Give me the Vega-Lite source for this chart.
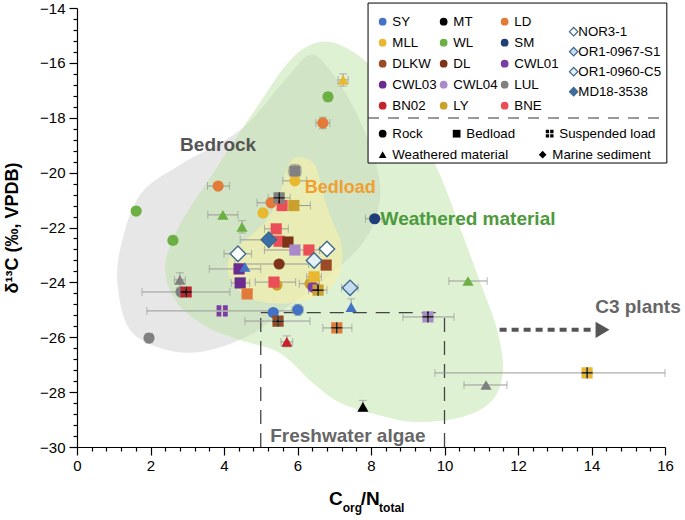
{
"$schema": "https://vega.github.io/schema/vega-lite/v6.json",
"width": 588, "height": 439,
"autosize": "none",
"padding": {"left": 77, "top": 8, "right": 20, "bottom": 73},
"background": "white",
"config": {"view": {"stroke": null}, "font": "Liberation Sans"},
"datasets": {
"gray": [{"i":0,"x":6.34,"y":-15.71},{"i":1,"x":6.88,"y":-16.26},{"i":2,"x":7.56,"y":-17.72},{"i":3,"x":8.11,"y":-19.54},{"i":4,"x":8.24,"y":-21.0},{"i":5,"x":7.84,"y":-22.45},{"i":6,"x":6.88,"y":-23.73},{"i":7,"x":5.8,"y":-24.82},{"i":8,"x":4.71,"y":-25.92},{"i":9,"x":3.35,"y":-26.54},{"i":10,"x":2.26,"y":-26.39},{"i":11,"x":1.44,"y":-25.73},{"i":12,"x":1.12,"y":-24.28},{"i":13,"x":1.17,"y":-22.82},{"i":14,"x":1.71,"y":-20.82},{"i":15,"x":2.8,"y":-19.72},{"i":16,"x":4.44,"y":-18.45},{"i":17,"x":5.66,"y":-16.62}],
"green": [{"i":0,"x":6.61,"y":-15.24},{"i":1,"x":7.43,"y":-15.53},{"i":2,"x":8.38,"y":-16.62},{"i":3,"x":9.2,"y":-18.26},{"i":4,"x":9.88,"y":-20.09},{"i":5,"x":10.45,"y":-22.1},{"i":6,"x":11.0,"y":-24.1},{"i":7,"x":11.43,"y":-25.73},{"i":8,"x":11.59,"y":-27.2},{"i":9,"x":11.3,"y":-28.3},{"i":10,"x":10.5,"y":-28.9},{"i":11,"x":9.25,"y":-29.09},{"i":12,"x":8.24,"y":-28.85},{"i":13,"x":7.16,"y":-28.39},{"i":14,"x":6.42,"y":-27.67},{"i":15,"x":5.52,"y":-26.57},{"i":16,"x":4.44,"y":-26.1},{"i":17,"x":3.5,"y":-25.6},{"i":18,"x":2.7,"y":-24.7},{"i":19,"x":2.4,"y":-23.4},{"i":20,"x":2.8,"y":-21.9},{"i":21,"x":3.76,"y":-19.9},{"i":22,"x":4.84,"y":-17.72},{"i":23,"x":5.8,"y":-15.9}],
"yellow": [{"i":0,"x":6.07,"y":-19.43},{"i":1,"x":6.48,"y":-19.72},{"i":2,"x":6.67,"y":-20.63},{"i":3,"x":6.88,"y":-21.54},{"i":4,"x":7.16,"y":-22.45},{"i":5,"x":7.21,"y":-23.26},{"i":6,"x":7.02,"y":-24.02},{"i":7,"x":6.56,"y":-24.5},{"i":8,"x":5.8,"y":-24.75},{"i":9,"x":5.03,"y":-24.71},{"i":10,"x":4.44,"y":-24.35},{"i":11,"x":4.11,"y":-23.62},{"i":12,"x":4.22,"y":-22.89},{"i":13,"x":4.71,"y":-22.31},{"i":14,"x":5.12,"y":-21.8},{"i":15,"x":5.47,"y":-21.0},{"i":16,"x":5.66,"y":-20.09},{"i":17,"x":5.8,"y":-19.61}],
"pts": [
{"site":"WL","type":"Rock","x":6.83,"y":-17.24,"ylo":-17.4,"yhi":-17.08},
{"site":"LD","type":"Rock","x":6.69,"y":-18.19,"xlo":6.5,"xhi":6.88,"ylo":-18.4,"yhi":-17.98},
{"site":"MLL","type":"Rock","x":5.93,"y":-20.3,"xlo":5.6,"xhi":6.25},
{"site":"LD","type":"Rock","x":5.28,"y":-21.1,"xlo":4.9,"xhi":5.6},
{"site":"MLL","type":"Rock","x":5.06,"y":-21.47},
{"site":"LD","type":"Rock","x":3.84,"y":-20.49,"xlo":3.55,"xhi":4.15},
{"site":"WL","type":"Rock","x":1.61,"y":-21.4},
{"site":"WL","type":"Rock","x":2.61,"y":-22.47,"ylo":-22.62,"yhi":-22.32},
{"site":"SM","type":"Rock","x":8.1,"y":-21.68,"xlo":7.85,"xhi":8.3},
{"site":"DL","type":"Rock","x":5.5,"y":-23.33,"xlo":4.3,"xhi":6.3},
{"site":"LY","type":"Rock","x":5.44,"y":-24.1},
{"site":"LY","type":"Rock","x":6.34,"y":-24.05,"xlo":6.05,"xhi":6.6},
{"site":"CWL01","type":"Rock","x":6.42,"y":-24.17},
{"site":"LUL","type":"Rock","x":2.83,"y":-24.35,"xlo":1.77,"xhi":4.16},
{"site":"LUL","type":"Rock","x":1.96,"y":-26.03,"ylo":-26.2,"yhi":-25.86},
{"site":"SY","type":"Rock","x":5.34,"y":-25.1},
{"site":"SY","type":"Rock","x":6.01,"y":-25.0,"xlo":5.85,"xhi":6.15,"ylo":-25.2,"yhi":-24.8},
{"site":"LUL","type":"Bedload","x":5.93,"y":-19.94,"xlo":5.75,"xhi":6.1,"ylo":-20.2,"yhi":-19.7},
{"site":"BNE","type":"Bedload","x":5.58,"y":-21.2},
{"site":"LY","type":"Bedload","x":5.9,"y":-21.2,"xlo":5.5,"xhi":6.35},
{"site":"BNE","type":"Bedload","x":5.42,"y":-22.05,"xlo":5.1,"xhi":5.75},
{"site":"BNE","type":"Bedload","x":5.5,"y":-22.5},
{"site":"DL","type":"Bedload","x":5.74,"y":-22.53},
{"site":"CWL04","type":"Bedload","x":5.93,"y":-22.82,"xlo":5.1,"xhi":6.6},
{"site":"BNE","type":"Bedload","x":6.31,"y":-22.82},
{"site":"DLKW","type":"Bedload","x":6.78,"y":-23.37},
{"site":"CWL03","type":"Bedload","x":4.41,"y":-23.51,"xlo":3.6,"xhi":5.0},
{"site":"CWL03","type":"Bedload","x":4.44,"y":-24.02,"xlo":4.2,"xhi":4.7},
{"site":"MLL","type":"Bedload","x":6.45,"y":-23.8,"xlo":6.25,"xhi":6.65},
{"site":"BNE","type":"Bedload","x":5.36,"y":-23.99,"xlo":4.85,"xhi":5.95},
{"site":"LD","type":"Bedload","x":4.63,"y":-24.42},
{"site":"LUL","type":"Suspended load","x":5.5,"y":-20.92,"xlo":5.2,"xhi":5.8},
{"site":"LY","type":"Suspended load","x":6.56,"y":-24.28,"xlo":6.3,"xhi":6.8},
{"site":"BN02","type":"Suspended load","x":2.97,"y":-24.35},
{"site":"CWL01","type":"Suspended load","x":3.95,"y":-25.04,"xlo":1.9,"xhi":6.0},
{"site":"DLKW","type":"Suspended load","x":5.47,"y":-25.41,"xlo":4.57,"xhi":6.34},
{"site":"LD","type":"Suspended load","x":7.07,"y":-25.66,"xlo":6.69,"xhi":7.48},
{"site":"CWL04","type":"Suspended load","x":9.55,"y":-25.26,"xlo":8.87,"xhi":10.26},
{"site":"MLL","type":"Suspended load","x":13.88,"y":-27.3,"xlo":9.74,"xhi":16.0},
{"site":"MLL","type":"Weathered material","x":7.24,"y":-16.62,"xlo":7.1,"xhi":7.38,"ylo":-16.85,"yhi":-16.4},
{"site":"WL","type":"Weathered material","x":3.97,"y":-21.54,"xlo":3.56,"xhi":4.38},
{"site":"WL","type":"Weathered material","x":4.49,"y":-21.98,"ylo":-22.2,"yhi":-21.75},
{"site":"SY","type":"Weathered material","x":4.57,"y":-23.44},
{"site":"LUL","type":"Weathered material","x":2.8,"y":-23.91,"xlo":2.65,"xhi":2.95,"ylo":-24.2,"yhi":-23.65},
{"site":"SY","type":"Weathered material","x":7.46,"y":-24.9,"ylo":-25.05,"yhi":-24.6},
{"site":"BN02","type":"Weathered material","x":5.71,"y":-26.17,"xlo":5.55,"xhi":5.87,"ylo":-26.35,"yhi":-25.95},
{"site":"MT","type":"Weathered material","x":7.78,"y":-28.54,"ylo":-28.7,"yhi":-28.3},
{"site":"WL","type":"Weathered material","x":10.64,"y":-23.95,"xlo":10.12,"xhi":11.16},
{"site":"LUL","type":"Weathered material","x":11.13,"y":-27.74,"xlo":10.53,"xhi":11.7},
{"site":"MD18-3538","type":"Marine sediment","x":5.22,"y":-22.45,"xlo":4.44,"xhi":5.5},
{"site":"NOR3-1","type":"Marine sediment","x":6.8,"y":-22.78},
{"site":"OR1-0960-C5","type":"Marine sediment","x":6.45,"y":-23.2},
{"site":"NOR3-1","type":"Marine sediment","x":4.38,"y":-22.96,"xlo":4.0,"xhi":4.75},
{"site":"OR1-0967-S1","type":"Marine sediment","x":7.43,"y":-24.2,"xlo":7.2,"xhi":7.65}
]
},
"layer": [
{"data": {"name": "gray"},
 "mark": {"type": "line", "interpolate": "cardinal-closed", "fill": "#d4d4d4", "fillOpacity": 0.55, "strokeWidth": 0},
 "encoding": {
  "x": {"field": "x", "type": "quantitative", "scale": {"domain": [0, 16], "nice": false, "zero": false},
   "axis": {"orient": "bottom", "title": null, "grid": false, "values": [0,2,4,6,8,10,12,14,16], "labelOverlap": false, "labelFlush": false,
    "tickSize": 8, "domainColor": "black", "tickColor": "black", "labelColor": "black", "labelFontSize": 15, "labelPadding": 3, "domainWidth": 1.2, "tickWidth": 1.2}},
  "y": {"field": "y", "type": "quantitative", "scale": {"domain": [-30, -14], "nice": false, "zero": false},
   "axis": {"orient": "left", "title": "δ¹³C (‰, VPDB)", "titleFontSize": 18, "titleFontWeight": "bold", "titleColor": "black", "titlePadding": 18, "grid": false,
    "values": [-14,-16,-18,-20,-22,-24,-26,-28,-30], "labelOverlap": false, "labelFlush": false,
    "tickSize": 8, "domainColor": "black", "tickColor": "black", "labelColor": "black", "labelFontSize": 15, "labelPadding": 4, "domainWidth": 1.2, "tickWidth": 1.2}},
  "order": {"field": "i", "type": "quantitative"}
 }},
{"data": {"name": "green"},
 "mark": {"type": "line", "interpolate": "cardinal-closed", "fill": "#b5df9c", "fillOpacity": 0.45, "strokeWidth": 0},
 "encoding": {
  "x": {"field": "x", "type": "quantitative",
   "axis": {"orient": "bottom", "title": null, "grid": false, "labels": false, "domain": false, "values": [0.4,0.8,1.2,1.6,2.4,2.8,3.2,3.6,4.4,4.8,5.2,5.6,6.4,6.8,7.2,7.6,8.4,8.8,9.2,9.6,10.4,10.8,11.2,11.6,12.4,12.8,13.2,13.6,14.4,14.8,15.2,15.6], "tickSize": 4, "tickColor": "black", "tickWidth": 1.2}},
  "y": {"field": "y", "type": "quantitative",
   "axis": {"orient": "left", "title": null, "grid": false, "labels": false, "domain": false, "values": [-14.4,-14.8,-15.2,-15.6,-16.4,-16.8,-17.2,-17.6,-18.4,-18.8,-19.2,-19.6,-20.4,-20.8,-21.2,-21.6,-22.4,-22.8,-23.2,-23.6,-24.4,-24.8,-25.2,-25.6,-26.4,-26.8,-27.2,-27.6,-28.4,-28.8,-29.2,-29.6], "tickSize": 4, "tickColor": "black", "tickWidth": 1.2}},
  "order": {"field": "i", "type": "quantitative"}}},
{"data": {"name": "yellow"},
 "mark": {"type": "line", "interpolate": "cardinal-closed", "fill": "#f6efaa", "fillOpacity": 0.65, "strokeWidth": 0},
 "encoding": {"x": {"field": "x", "type": "quantitative", "axis": null}, "y": {"field": "y", "type": "quantitative", "axis": null}, "order": {"field": "i", "type": "quantitative"}}},
{"data": {"values": [{}]},
 "mark": {"type": "rule", "color": "#444", "strokeWidth": 1.3, "strokeDash": [14, 9]},
 "encoding": {"x": {"datum": 5, "axis": null}, "y": {"datum": -30, "axis": null}, "y2": {"datum": -25.1}}},
{"data": {"values": [{}]},
 "mark": {"type": "rule", "color": "#444", "strokeWidth": 1.3, "strokeDash": [14, 9]},
 "encoding": {"x": {"datum": 10, "axis": null}, "y": {"datum": -30, "axis": null}, "y2": {"datum": -25.1}}},
{"data": {"values": [{}]},
 "mark": {"type": "rule", "color": "#444", "strokeWidth": 1.3, "strokeDash": [14, 9]},
 "encoding": {"x": {"datum": 5, "axis": null}, "x2": {"datum": 10}, "y": {"datum": -25.1, "axis": null}}},
{"data": {"values": [{}]},
 "mark": {"type": "rule", "color": "#555", "strokeWidth": 4, "strokeDash": [7, 5]},
 "encoding": {"x": {"datum": 11.5, "axis": null}, "x2": {"datum": 14.05}, "y": {"datum": -25.73, "axis": null}}},
{"data": {"values": [{}]},
 "mark": {"type": "point", "shape": "triangle-right", "filled": true, "color": "#555", "size": 260, "opacity": 1},
 "encoding": {"x": {"datum": 14.3, "axis": null}, "y": {"datum": -25.73, "axis": null}}},
{"data": {"name": "pts"},
 "transform": [{"filter": "isValid(datum.xlo)"}],
 "mark": {"type": "errorbar", "ticks": {"color": "#999", "size": 8}, "rule": {"color": "#999", "strokeWidth": 1}},
 "encoding": {"x": {"field": "xlo", "type": "quantitative", "axis": null}, "x2": {"field": "xhi"}, "y": {"field": "y", "type": "quantitative", "axis": null}}},
{"data": {"name": "pts"},
 "transform": [{"filter": "isValid(datum.ylo)"}],
 "mark": {"type": "errorbar", "ticks": {"color": "#999", "size": 8}, "rule": {"color": "#999", "strokeWidth": 1}},
 "encoding": {"y": {"field": "ylo", "type": "quantitative", "axis": null}, "y2": {"field": "yhi"}, "x": {"field": "x", "type": "quantitative", "axis": null}}},
{"data": {"name": "pts"},
 "transform": [{"filter": "datum.type === 'Rock' || datum.type === 'Bedload' || datum.type === 'Suspended load'"}],
 "mark": {"type": "point", "filled": true, "size": 125, "opacity": 1, "strokeWidth": 0},
 "encoding": {
  "x": {"field": "x", "type": "quantitative", "axis": null},
  "y": {"field": "y", "type": "quantitative", "axis": null},
  "fill": {"field": "site", "type": "nominal",
   "scale": {"domain": ["SY","MT","LD","MLL","WL","SM","DLKW","DL","CWL01","CWL03","CWL04","LUL","BN02","LY","BNE"],
    "range": ["#4472c4","#000000","#e27b3a","#e8b830","#6cb044","#203f78","#9a4a24","#7d3419","#7b3ca6","#6a2c8e","#a98bcb","#808080","#c4232b","#c9a12c","#ea4f58"]},
   "legend": {"title": null, "orient": "none", "legendX": 299, "legendY": 7, "columns": 3, "direction": "horizontal", "symbolType": "circle", "symbolSize": 60, "symbolStrokeWidth": 0, "labelFontSize": 13.3, "labelColor": "black", "labelOffset": 3, "rowPadding": 7, "columnPadding": -7, "padding": 0}},
  "shape": {"field": "type", "type": "nominal",
   "scale": {"domain": ["Rock","Bedload","Suspended load"],
    "range": ["circle","square","M-1,-1H-0.14V-0.14H-1Z M0.14,-1H1V-0.14H0.14Z M-1,0.14H-0.14V1H-1Z M0.14,0.14H1V1H0.14Z"]},
   "legend": {"title": null, "orient": "none", "legendX": 299, "legendY": 119, "columns": 3, "direction": "horizontal", "symbolSize": 60, "symbolFillColor": "black", "symbolStrokeColor": "black", "symbolStrokeWidth": 0, "labelFontSize": 13.3, "labelColor": "black", "labelOffset": 3, "columnPadding": 27, "padding": 0}}
 }},
{"data": {"name": "pts"},
 "transform": [{"filter": "datum.type === 'Weathered material'"}],
 "mark": {"type": "point", "filled": true, "size": 125, "opacity": 1, "strokeWidth": 0},
 "encoding": {
  "x": {"field": "x", "type": "quantitative", "axis": null},
  "y": {"field": "y", "type": "quantitative", "axis": null},
  "fill": {"field": "site", "type": "nominal",
   "scale": {"domain": ["SY","MT","LD","MLL","WL","SM","DLKW","DL","CWL01","CWL03","CWL04","LUL","BN02","LY","BNE"],
    "range": ["#4472c4","#000000","#e27b3a","#e8b830","#6cb044","#203f78","#9a4a24","#7d3419","#7b3ca6","#6a2c8e","#a98bcb","#808080","#c4232b","#c9a12c","#ea4f58"]},
   "legend": null},
  "shape": {"field": "type", "type": "nominal",
   "scale": {"domain": ["Weathered material","Marine sediment"], "range": ["triangle-up","diamond"]},
   "legend": {"title": null, "orient": "none", "legendX": 299, "legendY": 140, "columns": 2, "direction": "horizontal", "symbolSize": 60, "symbolFillColor": "black", "symbolStrokeColor": "black", "symbolStrokeWidth": 0, "labelFontSize": 13.3, "labelColor": "black", "labelOffset": 3, "columnPadding": 27, "padding": 0}}
 }},
{"data": {"name": "pts"},
 "transform": [{"filter": "datum.type === 'Suspended load' && datum.site !== 'CWL01'"}],
 "mark": {"type": "point", "shape": "M-1,0H1M0,-1V1", "filled": false, "stroke": "black", "strokeWidth": 1.3, "size": 125, "opacity": 1},
 "encoding": {"x": {"field": "x", "type": "quantitative", "axis": null}, "y": {"field": "y", "type": "quantitative", "axis": null}}},
{"data": {"name": "pts"},
 "transform": [{"filter": "datum.type === 'Marine sediment'"}],
 "mark": {"type": "point", "shape": "diamond", "filled": true, "size": 240, "opacity": 1, "stroke": "#3f6890", "strokeWidth": 1.4},
 "encoding": {
  "x": {"field": "x", "type": "quantitative", "axis": null},
  "y": {"field": "y", "type": "quantitative", "axis": null},
  "fill": {"field": "site", "type": "nominal",
   "scale": {"domain": ["NOR3-1","OR1-0967-S1","OR1-0960-C5","MD18-3538"], "range": ["#ffffff","#c4dcee","#e4f2f3","#3c6ea6"]},
   "legend": {"title": null, "orient": "none", "legendX": 490, "legendY": 17, "symbolType": "diamond", "symbolSize": 70, "symbolStrokeColor": "#3f6890", "symbolStrokeWidth": 1.2, "labelFontSize": 13.3, "labelColor": "black", "labelOffset": -2, "rowPadding": 5, "padding": 0}}
 }},
{"data": {"values": [{}]},
 "mark": {"type": "text", "text": "Bedrock", "fontSize": 19, "fontWeight": "bold", "color": "#555555"},
 "encoding": {"x": {"datum": 3.84, "axis": null}, "y": {"datum": -19.0, "axis": null}}},
{"data": {"values": [{}]},
 "mark": {"type": "text", "text": "Bedload", "fontSize": 18, "fontWeight": "bold", "color": "#f0a030"},
 "encoding": {"x": {"datum": 7.16, "axis": null}, "y": {"datum": -20.56, "axis": null}}},
{"data": {"values": [{}]},
 "mark": {"type": "text", "text": "Weathered material", "fontSize": 19, "fontWeight": "bold", "color": "#4c9a3c"},
 "encoding": {"x": {"datum": 10.64, "axis": null}, "y": {"datum": -21.69, "axis": null}}},
{"data": {"values": [{}]},
 "mark": {"type": "text", "text": "C3 plants", "fontSize": 19, "fontWeight": "bold", "color": "#666666", "align": "left"},
 "encoding": {"x": {"datum": 14.1, "axis": null}, "y": {"datum": -24.9, "axis": null}}},
{"data": {"values": [{}]},
 "mark": {"type": "text", "text": "Freshwater algae", "fontSize": 19, "fontWeight": "bold", "color": "#666666"},
 "encoding": {"x": {"datum": 7.37, "axis": null}, "y": {"datum": -29.6, "axis": null}}},
{"data": {"values": [{}]},
 "mark": {"type": "text", "text": "C", "fontSize": 19, "fontWeight": "bold", "color": "black", "align": "left", "baseline": "alphabetic"},
 "encoding": {"x": {"datum": 6.86, "axis": null}, "y": {"datum": -32.11, "axis": null}}},
{"data": {"values": [{}]},
 "mark": {"type": "text", "text": "org", "fontSize": 12, "fontWeight": "bold", "color": "black", "align": "left", "baseline": "alphabetic"},
 "encoding": {"x": {"datum": 7.23, "axis": null}, "y": {"datum": -32.37, "axis": null}}},
{"data": {"values": [{}]},
 "mark": {"type": "text", "text": "/N", "fontSize": 19, "fontWeight": "bold", "color": "black", "align": "left", "baseline": "alphabetic"},
 "encoding": {"x": {"datum": 7.72, "axis": null}, "y": {"datum": -32.11, "axis": null}}},
{"data": {"values": [{}]},
 "mark": {"type": "text", "text": "total", "fontSize": 12, "fontWeight": "bold", "color": "black", "align": "left", "baseline": "alphabetic"},
 "encoding": {"x": {"datum": 8.22, "axis": null}, "y": {"datum": -32.37, "axis": null}}},
{"data": {"values": [{}]},
 "mark": {"type": "rect", "fill": "white", "stroke": "black", "strokeWidth": 1},
 "encoding": {"x": {"datum": 7.92, "axis": null}, "x2": {"datum": 16.05}, "y": {"datum": -13.82, "axis": null}, "y2": {"datum": -19.65}}},
{"data": {"values": [{}]},
 "mark": {"type": "rule", "color": "#333", "strokeWidth": 1.2, "strokeDash": [11, 9]},
 "encoding": {"x": {"datum": 7.92, "axis": null}, "x2": {"datum": 16.05}, "y": {"datum": -18.01, "axis": null}}}
],
"resolve": {"scale": {"fill": "independent", "shape": "independent"}, "axis": {"x": "independent", "y": "independent"}}
}
